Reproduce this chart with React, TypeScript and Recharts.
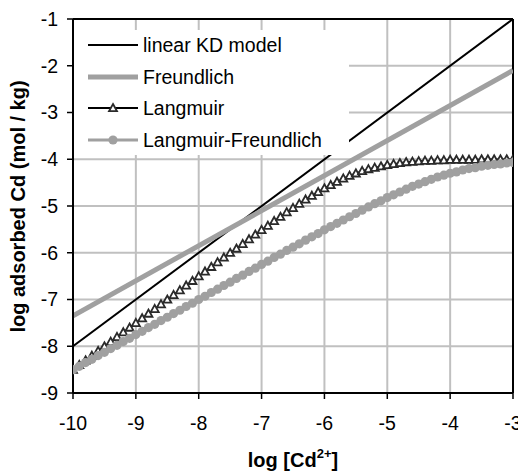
import { ComposedChart, Line, XAxis, YAxis, CartesianGrid, ReferenceLine, Legend } from 'recharts'

const FONT = '"Liberation Sans", Arial, sans-serif'

const xTicks = [-10, -9, -8, -7, -6, -5, -4, -3]
const yTicks = [-9, -8, -7, -6, -5, -4, -3, -2, -1]

const seriesNames = ['linear KD model', 'Freundlich', 'Langmuir', 'Langmuir-Freundlich']

// straight lines only need their end points
const kdX = [-10, -3]
const kdY = [-8, -1]
const freundlichX = [-10, -3]
const freundlichY = [-7.35, -2.1]

// log [Cd2+] sampling used for the two marker series
const logC = [
  -10, -9.9, -9.8, -9.7, -9.6, -9.5, -9.4, -9.3, -9.2, -9.1,
  -9, -8.9, -8.8, -8.7, -8.6, -8.5, -8.4, -8.3, -8.2, -8.1,
  -8, -7.9, -7.8, -7.7, -7.6, -7.5, -7.4, -7.3, -7.2, -7.1,
  -7, -6.9, -6.8, -6.7, -6.6, -6.5, -6.4, -6.3, -6.2, -6.1,
  -6, -5.9, -5.8, -5.7, -5.6, -5.5, -5.4, -5.3, -5.2, -5.1,
  -5, -4.9, -4.8, -4.7, -4.6, -4.5, -4.4, -4.3, -4.2, -4.1,
  -4, -3.9, -3.8, -3.7, -3.6, -3.5, -3.4, -3.3, -3.2, -3.1,
  -3,
]

const langmuirY = [
  -8.5, -8.4, -8.3, -8.2, -8.1, -8.0, -7.9, -7.8, -7.7, -7.6,
  -7.5, -7.4, -7.3, -7.2, -7.1, -7.0, -6.9, -6.8, -6.7, -6.6,
  -6.5, -6.4, -6.3, -6.2, -6.1, -6.0, -5.91, -5.81, -5.71, -5.61,
  -5.51, -5.42, -5.32, -5.23, -5.13, -5.04, -4.95, -4.86, -4.78, -4.7,
  -4.62, -4.55, -4.48, -4.41, -4.35, -4.3, -4.25, -4.21, -4.18, -4.15,
  -4.12, -4.1, -4.08, -4.06, -4.05, -4.04, -4.03, -4.03, -4.02, -4.02,
  -4.01, -4.01, -4.01, -4.01, -4.01, -4.0, -4.0, -4.0, -4.0, -4.0,
  -4.0,
]

const langFreundY = [
  -8.5, -8.43, -8.35, -8.28, -8.2, -8.13, -8.05, -7.98, -7.9, -7.83,
  -7.75, -7.68, -7.6, -7.53, -7.45, -7.38, -7.3, -7.23, -7.15, -7.08,
  -7.0, -6.93, -6.85, -6.78, -6.7, -6.63, -6.55, -6.48, -6.4, -6.33,
  -6.25, -6.18, -6.1, -6.03, -5.95, -5.88, -5.81, -5.73, -5.66, -5.59,
  -5.51, -5.44, -5.37, -5.3, -5.23, -5.16, -5.09, -5.02, -4.95, -4.89,
  -4.82, -4.76, -4.7, -4.64, -4.58, -4.53, -4.48, -4.43, -4.38, -4.34,
  -4.3, -4.27, -4.23, -4.2, -4.18, -4.15, -4.13, -4.11, -4.1, -4.08,
  -4.07,
]

const toPoints = (xs: number[], ys: number[]) => xs.map((x, i) => ({ x, y: ys[i] }))

const kdData = toPoints(kdX, kdY)
const freundlichData = toPoints(freundlichX, freundlichY)
const langmuirData = toPoints(logC, langmuirY)
const langFreundData = toPoints(logC, langFreundY)

const GRAY = '#A0A0A0'

function Triangle({ cx, cy, size = 8 }: { cx: number; cy: number; size?: number }) {
  const h = size / 2
  return (
    <polygon
      points={`${cx},${cy - h} ${cx + h},${cy + h * 0.8} ${cx - h},${cy + h * 0.8}`}
      fill="#fff"
      stroke="#2a2a2a"
      strokeWidth={1.8}
    />
  )
}

const renderTriangle = (props: any) => {
  const { cx, cy, index } = props
  if (cx == null || cy == null) return <g key={index} />
  return <Triangle key={index} cx={cx} cy={cy} />
}

const renderCircle = (props: any) => {
  const { cx, cy, index } = props
  if (cx == null || cy == null) return <g key={index} />
  return <circle key={index} cx={cx} cy={cy} r={4.6} fill={GRAY} stroke="none" />
}

// Excel-style legend box sitting on top of the plot area
function LegendBox() {
  const rows = [15, 47, 78, 110]
  return (
    <svg width={275} height={125} style={{ display: 'block' }}>
      <rect x={0} y={0} width={275} height={125} fill="#fff" />
      <line x1={14} x2={64} y1={rows[0]} y2={rows[0]} stroke="#000" strokeWidth={2} />
      <line x1={14} x2={64} y1={rows[1]} y2={rows[1]} stroke={GRAY} strokeWidth={5} />
      <line x1={14} x2={64} y1={rows[2]} y2={rows[2]} stroke="#000" strokeWidth={2} />
      <Triangle cx={39} cy={rows[2]} />
      <line x1={14} x2={64} y1={rows[3]} y2={rows[3]} stroke={GRAY} strokeWidth={3} />
      <circle cx={39} cy={rows[3]} r={4.6} fill={GRAY} />
      {seriesNames.map((name, i) => (
        <text key={name} x={69} y={rows[i] + 7} fontSize={19.5} fontFamily={FONT} fill="#000">
          {name}
        </text>
      ))}
    </svg>
  )
}

export default function App() {
  const tickStyle = { fill: '#000', fontSize: 19.5, fontFamily: FONT }
  return (
    <div style={{ position: 'relative', width: 518, height: 463 }}>
      <ComposedChart
        width={518}
        height={463}
        margin={{ top: 11, right: 13, bottom: 0, left: 8 }}
        style={{ overflow: 'visible' }}
      >
        <CartesianGrid stroke="#C0C0C0" strokeWidth={2} horizontalValues={yTicks} verticalValues={xTicks} />
        <XAxis
          type="number"
          dataKey="x"
          domain={[-10, -3]}
          ticks={xTicks}
          height={78}
          tick={tickStyle}
          tickSize={6}
          tickMargin={17}
          axisLine={{ stroke: '#000', strokeWidth: 2 }}
          tickLine={{ stroke: '#000', strokeWidth: 1.5 }}
          allowDataOverflow
        />
        <YAxis
          type="number"
          dataKey="y"
          domain={[-9, -1]}
          ticks={yTicks}
          width={57}
          tick={tickStyle}
          tickSize={6}
          tickMargin={9}
          axisLine={{ stroke: '#000', strokeWidth: 2 }}
          tickLine={{ stroke: '#000', strokeWidth: 1.5 }}
          allowDataOverflow
        />
        <ReferenceLine y={-1} stroke="#000" strokeWidth={2} />
        <ReferenceLine x={-3} stroke="#000" strokeWidth={2} />
        <Line
          data={kdData}
          dataKey="y"
          name={seriesNames[0]}
          type="linear"
          stroke="#000"
          strokeWidth={2}
          dot={false}
          activeDot={false}
          isAnimationActive={false}
        />
        <Line
          data={freundlichData}
          dataKey="y"
          name={seriesNames[1]}
          type="linear"
          stroke={GRAY}
          strokeWidth={5}
          dot={false}
          activeDot={false}
          isAnimationActive={false}
        />
        <Line
          data={langmuirData}
          dataKey="y"
          name={seriesNames[2]}
          type="linear"
          stroke="#000"
          strokeWidth={1.5}
          dot={renderTriangle}
          activeDot={false}
          isAnimationActive={false}
        />
        <Line
          data={langFreundData}
          dataKey="y"
          name={seriesNames[3]}
          type="linear"
          stroke={GRAY}
          strokeWidth={2}
          dot={renderCircle}
          activeDot={false}
          isAnimationActive={false}
        />
        <Legend
          layout="vertical"
          align="center"
          verticalAlign="middle"
          content={() => <LegendBox />}
          wrapperStyle={{ left: 66, top: 22, width: 275, height: 125 }}
        />
      </ComposedChart>
      <svg
        width={518}
        height={463}
        style={{ position: 'absolute', left: 0, top: 0, pointerEvents: 'none', overflow: 'visible' }}
      >
        <text
          transform="translate(16.5, 198.5) rotate(-90)"
          textAnchor="middle"
          fontSize={20}
          fontWeight="bold"
          fontFamily={FONT}
          fill="#000"
        >
          log adsorbed Cd (mol / kg)
        </text>
        <text x={285} y={459} textAnchor="middle" fontSize={20} fontWeight="bold" fontFamily={FONT} fill="#000">
          <tspan>log [Cd</tspan>
          <tspan fontSize={13} dy={-9}>2+</tspan>
          <tspan dy={9}>]</tspan>
        </text>
      </svg>
    </div>
  )
}
